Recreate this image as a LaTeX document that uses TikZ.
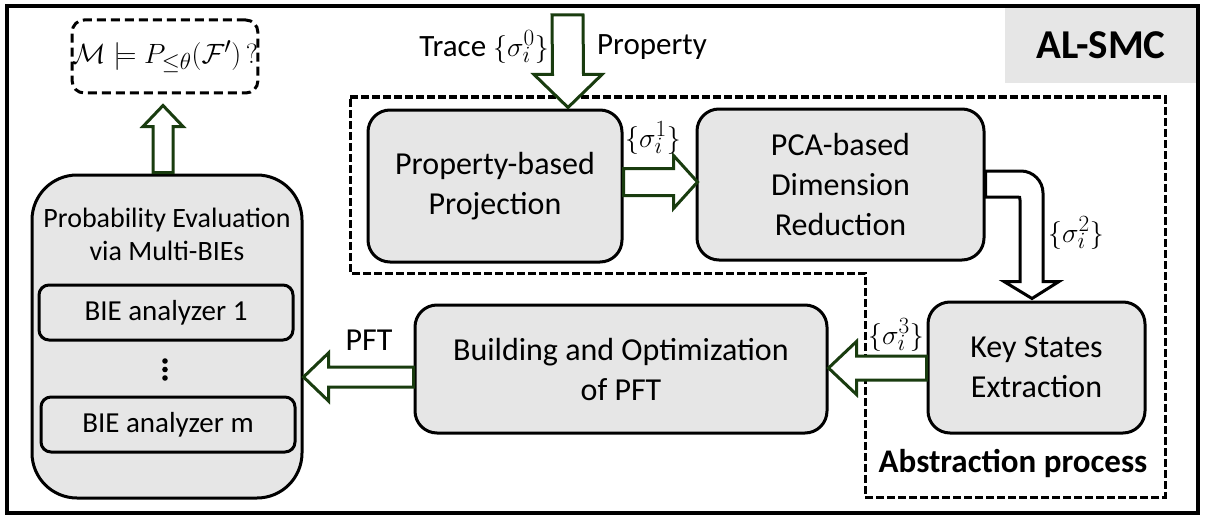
\documentclass[tikz,border=0pt]{standalone}
\usepackage{fontspec}
\usepackage{graphicx}
\setmainfont{Carlito}
\usetikzlibrary{calc}
\definecolor{boxgray}{RGB}{230,230,230}
\definecolor{dkgreen}{RGB}{25,60,15}
\newcommand{\bigmath}[1]{\scalebox{1.12}{\fontsize{24.88}{28}\selectfont $#1$}}
\begin{document}
\begin{tikzpicture}[x=1pt,y=-1pt,
  rbox/.style={draw=black, line width=3pt, fill=boxgray, rounded corners=22pt, align=center, inner sep=0pt, font=\fontsize{32}{40}\selectfont},
  biebox/.style={draw=black, line width=3pt, fill=boxgray, rounded corners=10pt, inner sep=0pt, minimum width=254pt, minimum height=55pt, font=\fontsize{29}{32}\selectfont},
  garrow/.style={draw=dkgreen, line width=3pt, fill=white, line join=miter},
  barrow/.style={draw=black, line width=3pt, fill=white, line join=miter},
  lbl/.style={inner sep=0pt},
  txt/.style={font=\fontsize{31}{34}\selectfont, inner sep=0pt}]
\useasboundingbox (0,0) rectangle (1208,527);
% AL-SMC tag
\node[fill=boxgray, minimum width=192pt, minimum height=76pt, inner sep=0pt, font=\bfseries\fontsize{41}{44}\selectfont] (al) at (1101,45) {AL-SMC};
% outer frame
\draw[line width=3.5pt] (7,6) rectangle (1198,513);
% abstraction region
\draw[line width=3pt, dash pattern=on 8pt off 3pt] (350,97) -- (1165,97) -- (1165,497) -- (865,497) -- (865,273) -- (350,273) -- cycle;
\node[font=\bfseries\fontsize{33}{36}\selectfont, inner sep=0pt] (abs) at (1013,463) {Abstraction process};
% formula
\node[draw=black, line width=3pt, dash pattern=on 9pt off 5pt, rounded corners=12pt, minimum width=184pt, minimum height=73pt, inner sep=0pt, text=black] (formula) at (165,56.5) {\bigmath{\mathcal{M}\models P_{\le\theta}(\mathcal{F}')\,?}};
% boxes
\node[rbox, minimum width=254pt, minimum height=152pt] (ppp) at (495,186) {Property-based\\Projection};
\node[rbox, minimum width=287pt, minimum height=151pt] (pca) at (840.5,184.5) {PCA-based\\Dimension\\Reduction};
\node[rbox, minimum width=217pt, minimum height=131pt] (kse) at (1036.5,367.5) {Key States\\Extraction};
\node[rbox, minimum width=412pt, minimum height=128pt] (bop) at (621,369) {Building and Optimization\\of PFT};
\node[rbox, rounded corners=45pt, minimum width=270pt, minimum height=323pt] (prob) at (167,336.5) {};
\node[align=center, inner sep=0pt, font=\fontsize{28}{33}\selectfont] (probt) at (167,234) {Probability Evaluation\\via Multi-BIEs};
\node[biebox] (bie1) at (166,312.5) {BIE analyzer 1};
\node[biebox] (biem) at (168,424.5) {BIE analyzer m};
\fill (165,361) circle (2.8);
\fill (165,369.5) circle (2.8);
\fill (165,378) circle (2.8);
% trace arrow (down)
\coordinate (tracetop) at (567.5,15);
\coordinate (t6) at ($(ppp.north)+(73,-1)$);
\draw[garrow] ($(tracetop)+(-15.5,0)$) -- ($(tracetop)+(15.5,0)$) -- ($(t6)+(15.5,-33)$) -- ($(t6)+(34,-33)$) -- (t6) -- ($(t6)+(-34,-33)$) -- ($(t6)+(-15.5,-33)$) -- cycle;
\node[txt, anchor=east] (tracel) at (549,47) {Trace \bigmath{\{\sigma_i^0\}}};
\node[txt, anchor=west] (propl) at (597,47) {Property};
% sigma1 arrow (right)
\coordinate (s1) at ($(ppp.east)+(0,-4)$);
\coordinate (t1) at ($(pca.west)+(2,-2.5)$);
\draw[garrow] ($(s1)+(0,-13.5)$) -- ($(t1)+(-24,-13.5)$) -- ($(t1)+(-24,-26.5)$) -- (t1) -- ($(t1)+(-24,26.5)$) -- ($(t1)+(-24,13.5)$) -- ($(s1)+(0,13.5)$) -- cycle;
\node[lbl] (l1) at (653,138) {\bigmath{\{\sigma_i^1\}}};
% sigma2 arrow (bent, down)
\coordinate (t7) at ($(kse.north)+(-4.5,-2)$);
\coordinate (so) at ($(pca.east)+(0,-13.5)$);
\coordinate (si) at ($(pca.east)+(0,12.5)$);
\draw[barrow] (so) -- ($(so -| t7)+(-11,0)$) .. controls ($(so -| t7)+(1,0)$) and ($(so -| t7)+(11,10)$) .. ($(so -| t7)+(11,22)$) -- ($(t7)+(11,-17)$) -- ($(t7)+(27,-17)$) -- (t7) -- ($(t7)+(-28,-17)$) -- ($(t7)+(-12,-17)$) -- ($(si -| t7)+(-12,3)$) .. controls ($(si -| t7)+(-12,0)$) .. ($(si -| t7)+(-15,0)$) -- (si) -- cycle;
\node[lbl] (l2) at (1076,233) {\bigmath{\{\sigma_i^2\}}};
% sigma3 arrow (left)
\coordinate (s3) at ($(kse.west)+(0,0.5)$);
\coordinate (t3) at ($(bop.east)+(0,-1)$);
\draw[garrow] ($(s3)+(0,-12)$) -- ($(t3)+(28,-12)$) -- ($(t3)+(28,-26.5)$) -- (t3) -- ($(t3)+(28,26.5)$) -- ($(t3)+(28,12)$) -- ($(s3)+(0,12)$) -- cycle;
\node[lbl] (l3) at (896,335) {\bigmath{\{\sigma_i^3\}}};
% PFT arrow (left)
\coordinate (s4) at ($(bop.west)+(0,8)$);
\coordinate (t4) at ($(prob.east)+(0,40.5)$);
\draw[garrow] ($(s4)+(0,-10)$) -- ($(t4)+(25,-10)$) -- ($(t4)+(25,-24)$) -- (t4) -- ($(t4)+(25,24)$) -- ($(t4)+(25,10)$) -- ($(s4)+(0,10)$) -- cycle;
\node[font=\fontsize{32}{34}\selectfont, inner sep=0pt] (pftl) at (369,340) {PFT};
% up arrow to formula
\coordinate (s5) at ($(prob.north)+(-4,-1)$);
\coordinate (t5) at ($(formula.south)+(-2,11)$);
\draw[garrow] ($(s5)+(-10,0)$) -- ($(t5)+(-10,21)$) -- ($(t5)+(-20,21)$) -- (t5) -- ($(t5)+(20,21)$) -- ($(t5)+(10,21)$) -- ($(s5)+(10,0)$) -- cycle;
\end{tikzpicture}
\end{document}
